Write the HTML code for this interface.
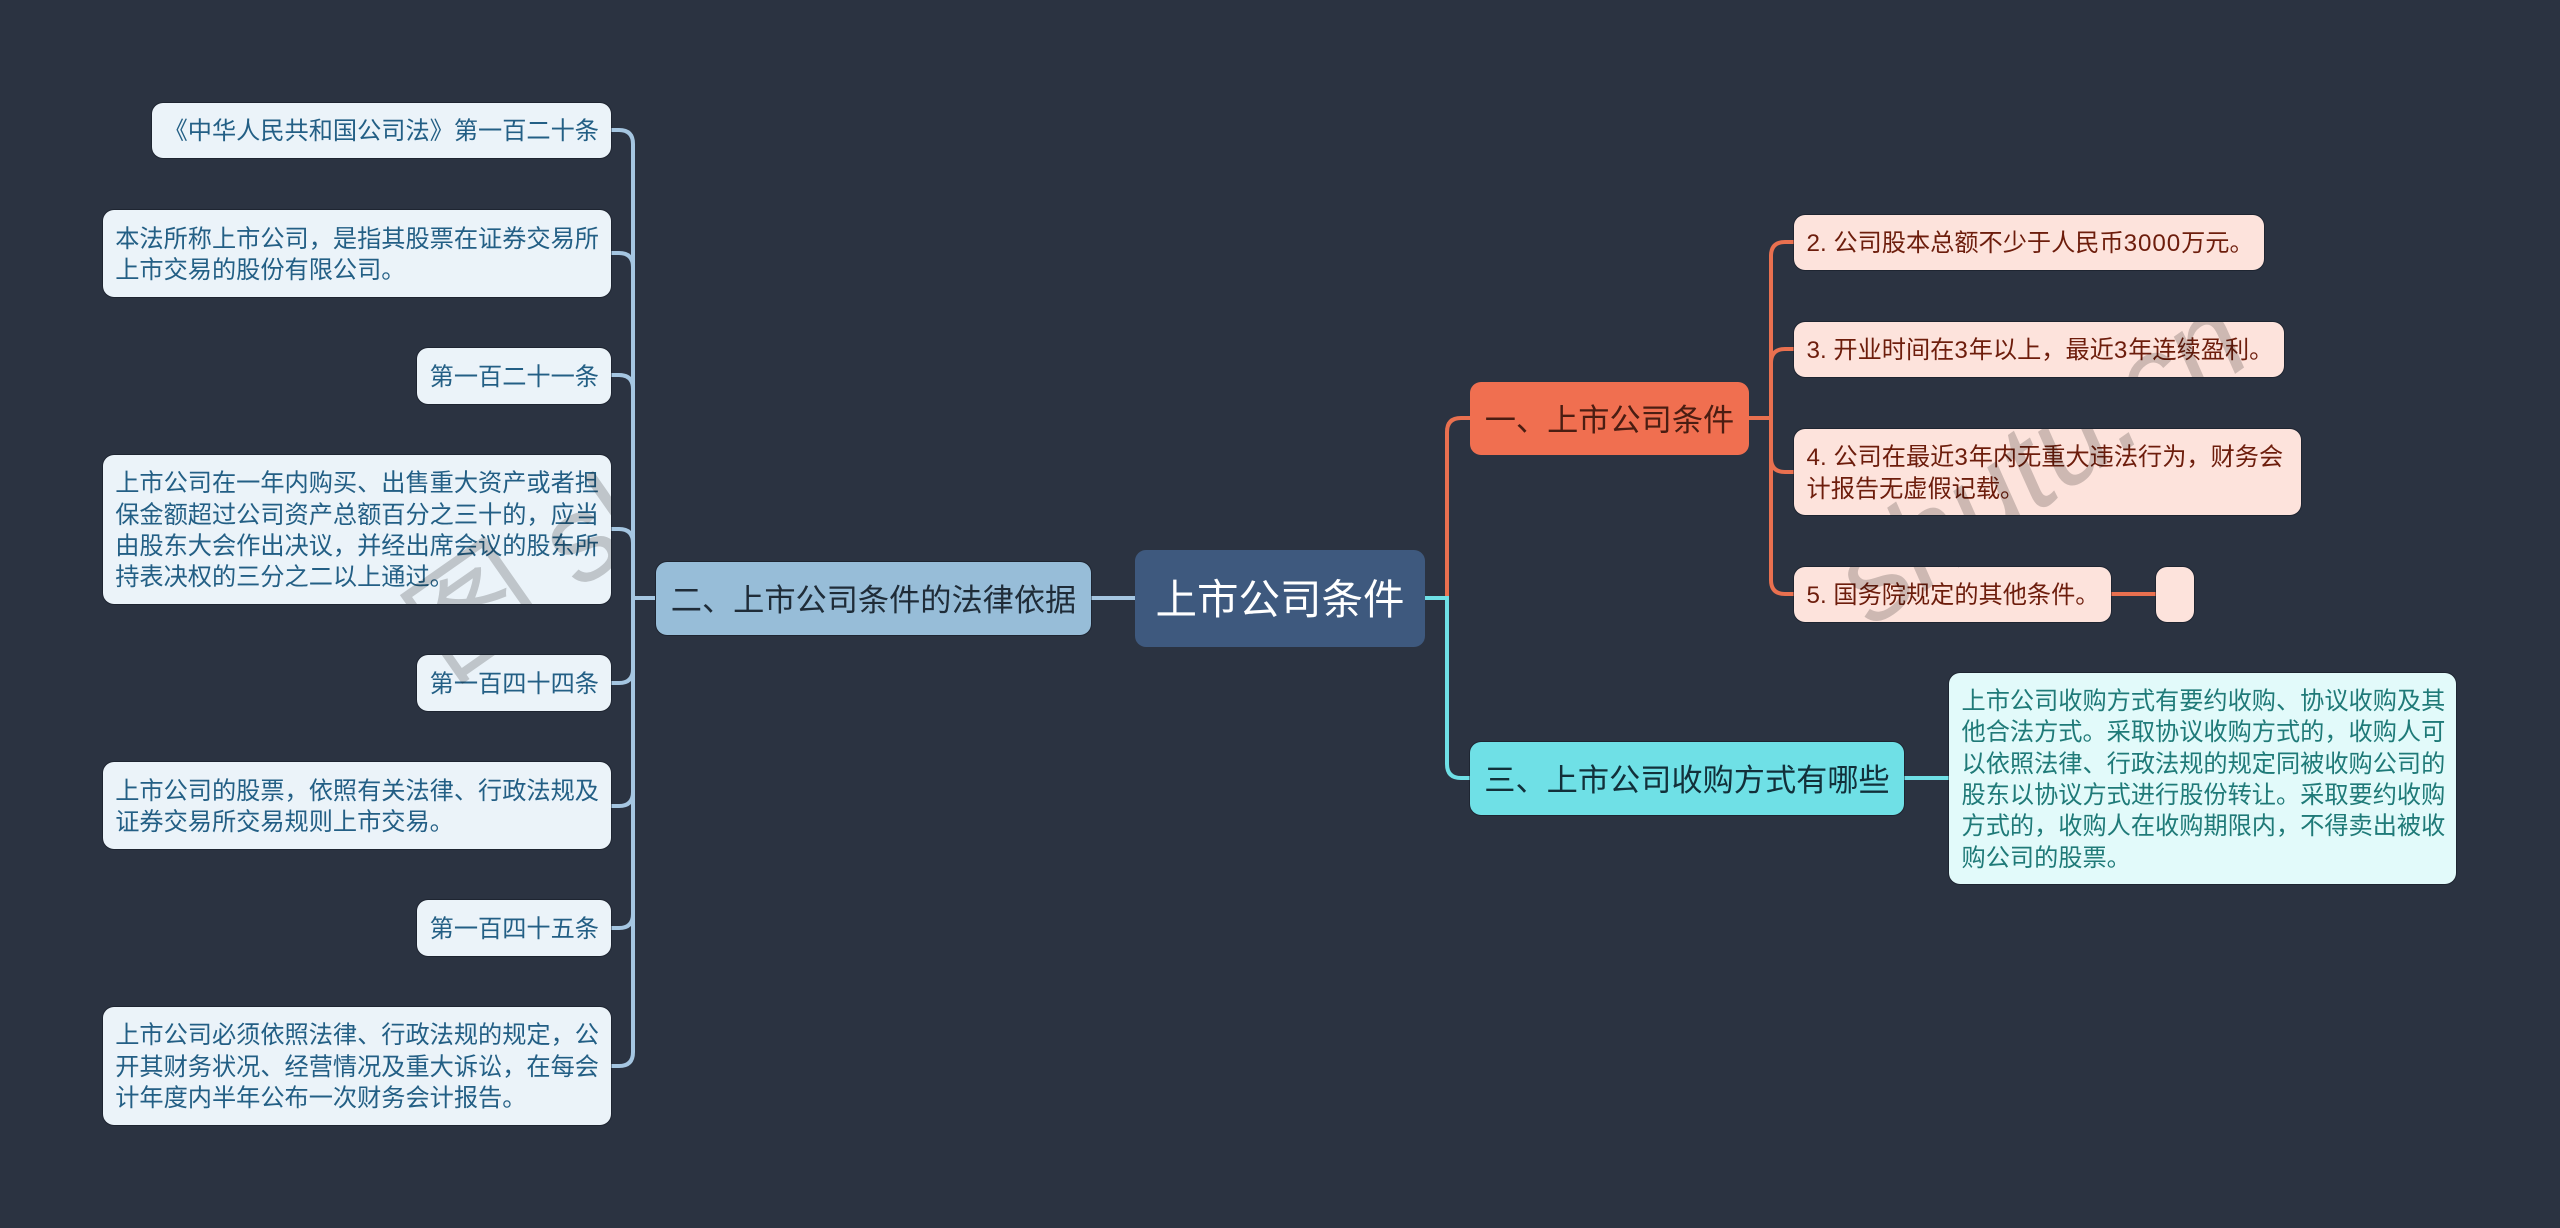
<!DOCTYPE html>
<html lang="zh"><head><meta charset="utf-8"><style>
html,body{margin:0;padding:0;background:#2b3341}
#c{position:relative;width:2560px;height:1228px;overflow:hidden;background:#2b3341;font-family:"Liberation Sans","Noto Sans CJK SC",sans-serif}
.n{position:absolute;box-sizing:border-box;border-radius:11px;display:flex;align-items:center;white-space:nowrap;box-shadow:0 0 0 1px rgba(15,20,32,.45)}
.l{font-size:24.2px;line-height:31.4px;padding-left:12.5px;padding-top:3px}
.a{background:#ebf3f9;color:#235f85;justify-content:flex-end;padding:3px 12px 0 12px;text-align:left}
.b{background:#fde3dc;color:#6d1d0c}
.c{background:#e2fafa;color:#1f7a78}
.p{font-size:31.2px;justify-content:center;padding-bottom:3px}
.d{letter-spacing:.9px}
svg{position:absolute;left:0;top:0}
</style></head><body><div id="c">
<svg width="2560" height="1228" fill="none" stroke-width="4">
<g stroke="#a5c6e1">
<path d="M1136 598H1090"/><path d="M655 598H633"/>
<path d="M611 130h8q14 0 14 14V1052q0 14-14 14h-8"/>
<path d="M611 253h8q14 0 14 14"/><path d="M611 375h8q14 0 14 14"/><path d="M611 529h8q14 0 14 14"/>
<path d="M611 683h8q14 0 14-14"/><path d="M611 806h8q14 0 14-14"/><path d="M611 928h8q14 0 14-14"/>
</g>
<g stroke="#e9704f">
<path d="M1447 598V432q0-14 14-14h9"/>
<path d="M1749 418h22"/>
<path d="M1794 242h-9q-14 0-14 14V580q0 14 14 14h9"/>
<path d="M1794 349h-9q-14 0-14 14"/><path d="M1794 472h-9q-14 0-14-14"/>
<path d="M2111 594h45"/>
</g>
<g stroke="#6fe0e6">
<path d="M1425 598h22V764q0 14 14 14h9"/>
<path d="M1904 778h45"/>
</g>
</svg>

<div class="n l a" style="left:152px;top:103px;width:459px;height:55px">《中华人民共和国公司法》第一百二十条</div>
<div class="n l a" style="left:103px;top:210px;width:508px;height:87px"><div>本法所称上市公司，是指其股票在证券交易所<br>上市交易的股份有限公司。</div></div>
<div class="n l a" style="left:417px;top:348px;width:194px;height:56px">第一百二十一条</div>
<div class="n l a" style="left:103px;top:455px;width:508px;height:149px"><div>上市公司在一年内购买、出售重大资产或者担<br>保金额超过公司资产总额百分之三十的，应当<br>由股东大会作出决议，并经出席会议的股东所<br>持表决权的三分之二以上通过。</div></div>
<div class="n l a" style="left:417px;top:655px;width:194px;height:56px">第一百四十四条</div>
<div class="n l a" style="left:103px;top:762px;width:508px;height:87px"><div>上市公司的股票，依照有关法律、行政法规及<br>证券交易所交易规则上市交易。</div></div>
<div class="n l a" style="left:417px;top:900px;width:194px;height:56px">第一百四十五条</div>
<div class="n l a" style="left:103px;top:1007px;width:508px;height:118px"><div>上市公司必须依照法律、行政法规的规定，公<br>开其财务状况、经营情况及重大诉讼，在每会<br>计年度内半年公布一次财务会计报告。</div></div>

<div class="n p" style="left:656px;top:562px;width:435px;height:73px;background:#97bdd8;color:#1f2c38">二、上市公司条件的法律依据</div>
<div class="n" style="left:1135px;top:550px;width:290px;height:97px;background:#3e597e;color:#fff;font-size:41.5px;justify-content:center;padding-bottom:5px;box-shadow:none">上市公司条件</div>
<div class="n p" style="left:1470px;top:382px;width:279px;height:73px;background:#f06f50;color:#4a1d12;box-shadow:none">一、上市公司条件</div>
<div class="n p" style="left:1470px;top:742px;width:434px;height:73px;background:#6fe0e6;color:#12303a">三、上市公司收购方式有哪些</div>

<div class="n l b" style="left:1794px;top:215px;width:470px;height:55px"><div>2. 公司股本总额不少于人民币<span class="d">3000</span>万元。</div></div>
<div class="n l b" style="left:1794px;top:322px;width:490px;height:55px"><div>3. 开业时间在<span class="d">3</span>年以上，最近<span class="d">3</span>年连续盈利。</div></div>
<div class="n l b" style="left:1794px;top:429px;width:507px;height:86px"><div>4. 公司在最近<span class="d">3</span>年内无重大违法行为，财务会<br>计报告无虚假记载。</div></div>
<div class="n l b" style="left:1794px;top:567px;width:317px;height:55px">5. 国务院规定的其他条件。</div>
<div class="n l b" style="left:2156px;top:567px;width:38px;height:55px"></div>
<div class="n l c" style="left:1949px;top:673px;width:507px;height:211px"><div>上市公司收购方式有要约收购、协议收购及其<br>他合法方式。采取协议收购方式的，收购人可<br>以依照法律、行政法规的规定同被收购公司的<br>股东以协议方式进行股份转让。采取要约收购<br>方式的，收购人在收购期限内，不得卖出被收<br>购公司的股票。</div></div>

<svg width="2560" height="1228" style="mix-blend-mode:multiply;pointer-events:none">
<defs><clipPath id="k">
<rect x="103" y="455" width="508" height="149" rx="11"/>
<rect x="417" y="655" width="194" height="56" rx="11"/>
<rect x="1794" y="322" width="490" height="55" rx="11"/>
<rect x="1794" y="429" width="507" height="86" rx="11"/>
<rect x="1794" y="567" width="317" height="55" rx="11"/>
</clipPath></defs>
<g clip-path="url(#k)" fill="#cfcfcf" font-family="'Liberation Sans','Noto Sans CJK SC',sans-serif" font-size="124">
<text transform="translate(448 682) rotate(-35)">图 shutu.cn</text>
<text transform="translate(1872 628) rotate(-35)" font-style="italic">shutu.cn</text>
</g></svg>
</div></body></html>
